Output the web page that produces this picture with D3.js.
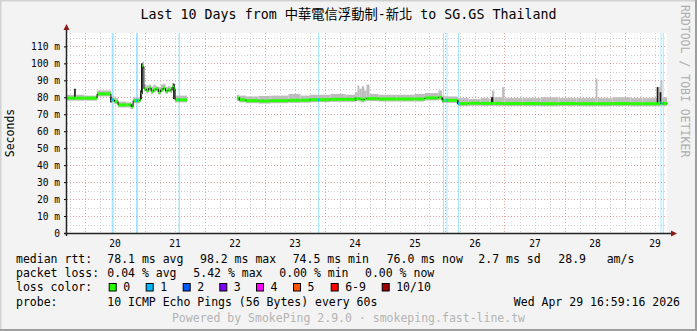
<!DOCTYPE html>
<html>
<head>
<meta charset="utf-8">
<script src="https://cdn.jsdelivr.net/npm/d3@7"></script>
<style>
  body { margin: 0; background: #f3f3f3; }
  svg { display: block; }
  text { font-family: "DejaVu Sans Mono", "Noto Sans CJK TC", monospace; }
</style>
</head>
<body>
<svg id="chart" width="697" height="331"></svg>
<script>
// ---- data (day of April 2026, decimal) ----
var medianDays = [19.71, 19.84, 19.86, 20.00, 20.21, 20.44, 20.50, 20.56, 20.70, 20.78, 20.81, 20.92, 20.94, 20.96, 20.99,
                  21.03, 21.07, 21.11, 21.15, 21.19, 21.23, 21.27, 21.31, 21.35, 21.39, 21.43, 21.46, 21.49, 21.51, 21.71,
                  22.54, 22.58, 22.69, 22.90, 23.10, 23.40, 23.60, 23.76, 23.89, 24.10, 24.35, 24.51, 24.55, 24.58, 24.62,
                  24.66, 24.70, 24.75, 24.90, 25.20, 25.50, 25.67, 25.90, 25.96, 26.00, 26.22, 26.40, 26.60, 26.75, 26.79,
                  26.83, 26.96, 27.00, 27.30, 27.60, 27.90, 28.20, 28.52, 28.55, 28.80, 29.10, 29.30, 29.55, 29.60, 29.63, 29.71];
var medianMs   = [79.5, 79.5, 79.5, 79.5, 82.0, 78.5, 77.5, 75.5, 75.5, 74.5, 78.0, 78.5, 82.0, 98.2, 85.0,
                  84.0, 85.5, 83.5, 84.5, 85.0, 83.0, 84.5, 85.5, 83.5, 84.5, 84.0, 86.0, 85.0, 78.5, null,
                  79.5, 78.5, 78.0, 77.8, 78.0, 78.2, 78.3, 78.6, 78.6, 78.8, 78.8, 79.2, 79.2, 79.0, 78.5,
                  79.0, 79.3, 79.2, 79.0, 79.0, 79.0, 79.6, 80.0, 78.2, 78.2, 76.3, 76.5, 76.4, 76.4, 76.4,
                  76.4, 76.3, 76.3, 76.3, 76.2, 76.3, 76.2, 76.2, 76.2, 76.3, 76.2, 76.2, 76.2, 76.6, 76.4, 76.0];
var smokeTopMs = [81.5, 85.0, 81.5, 81.0, 84.0, 80.5, 79.5, 77.5, 77.0, 76.5, 80.0, 80.5, 84.0, 101.0, 87.5,
                  87.0, 87.5, 86.5, 87.5, 86.5, 86.0, 87.5, 88.0, 86.0, 86.5, 86.0, 88.5, 87.5, 81.0, null,
                  81.5, 81.0, 80.5, 80.8, 81.0, 82.0, 81.0, 81.5, 81.5, 82.0, 81.5, 83.0, 87.0, 85.0, 86.5,
                  84.0, 87.5, 82.0, 81.5, 81.5, 82.0, 82.5, 84.0, 81.0, 80.5, 79.5, 79.0, 79.5, 79.0, 84.0,
                  80.0, 86.0, 79.5, 79.5, 80.0, 79.5, 79.5, 91.0, 79.5, 80.0, 79.5, 79.5, 86.0, 90.0, 80.0, 79.5];

// darkest smoke (near-black streaks)
var spikeDays = [19.84, 20.44, 20.78, 20.94, 20.955, 21.49, 22.58, 24.52, 25.97, 26.22, 26.79, 26.80, 29.55, 29.60];
var spikeLoMs = [79.5, 77.0, 74.5, 79.0, 82.0, 79.0, 78.0, 78.0, 77.5, 76.0, 76.0, 76.0, 76.0, 76.0];
var spikeHiMs = [85.0, 80.0, 76.0, 84.0, 100.0, 88.0, 80.0, 80.0, 79.5, 78.5, 80.0, 80.0, 86.0, 83.0];

// packet loss events
var lossDays  = [20.453, 20.858, 21.567, 23.892, 25.975, 26.033, 26.225, 29.600, 29.638];
var lossHours = [0.8, 0.8, 0.6, 0.4, 0.4, 0.4, 0.4, 0.4, 0.4];
var lossLevel = [1, 1, 1, 1, 1, 1, 1, 1, 1];

var yTicks = [0, 10, 20, 30, 40, 50, 60, 70, 80, 90, 100, 110];
var dayLabels = [20, 21, 22, 23, 24, 25, 26, 27, 28, 29];
var lossColors = ["#26ff00", "#00b8ff", "#0059ff", "#7e00ff", "#ff00ff", "#ff5500", "#ff0000", "#a00000"];
var lossLabels = ["0", "1", "2", "3", "4", "5", "6-9", "10/10"];

var rttStats  = ["78.1 ms avg", "98.2 ms max", "74.5 ms min", "76.0 ms now", "2.7 ms sd", "28.9", "am/s"];
var lossStats = ["0.04 % avg", "5.42 % max", "0.00 % min", "0.00 % now"];

// ---- setup ----
var W = 697, H = 331;
var svg = d3.select("#chart");
var plot = {left: 67, right: 667, top: 33, bottom: 233};

function day(d) { return new Date(Date.UTC(2026, 3, 1) + (d - 1) * 864e5); }

var x = d3.scaleUtc()
    .domain([day(19 + 17 / 24), day(29 + 17 / 24)])
    .range([plot.left, plot.right]);
var y = d3.scaleLinear()
    .domain([0, 117.9])
    .range([plot.bottom, plot.top]);

// frame
svg.append("rect").attr("width", W).attr("height", H).attr("fill", "#f3f3f3");
svg.append("path").attr("d", "M0,331 V0 H697").attr("stroke", "#d2d2d2").attr("stroke-width", 3).attr("fill", "none");
svg.append("path").attr("d", "M0,330 H696 V0").attr("stroke", "#9e9e9e").attr("stroke-width", 2).attr("fill", "none");

// canvas
svg.append("rect")
    .attr("x", plot.left).attr("y", plot.top)
    .attr("width", plot.right - plot.left).attr("height", plot.bottom - plot.top)
    .attr("fill", "#ffffff");

// grid
var grid = svg.append("g").attr("shape-rendering", "crispEdges");
var hours6 = d3.utcHour.every(6).range(x.domain()[0], x.domain()[1]);
hours6.forEach(function(t) {
    var major = t.getUTCHours() === 0;
    grid.append("line")
        .attr("x1", Math.round(x(t)) + 0.5).attr("x2", Math.round(x(t)) + 0.5)
        .attr("y1", plot.top).attr("y2", plot.bottom)
        .attr("stroke", major ? "#e2a3a3" : "#cfcfcf")
        .attr("stroke-dasharray", "1,2");
});
d3.range(5, 117, 5).forEach(function(v) {
    var major = v % 10 === 0;
    grid.append("line")
        .attr("x1", plot.left).attr("x2", plot.right)
        .attr("y1", Math.round(y(v)) + 0.5).attr("y2", Math.round(y(v)) + 0.5)
        .attr("stroke", major ? "#e2a3a3" : "#cfcfcf")
        .attr("stroke-dasharray", "1,2");
});

// loss bars (full height)
svg.append("g").selectAll("rect")
    .data(lossDays)
    .enter().append("rect")
    .attr("x", function(d) { return x(day(d)); })
    .attr("width", function(d, i) { return Math.max(1, x(day(d + lossHours[i] / 24)) - x(day(d))); })
    .attr("y", plot.top)
    .attr("height", plot.bottom - plot.top)
    .attr("fill", function(d, i) { return lossColors[lossLevel[i]]; })
    .attr("opacity", 0.35);

// smoke
var steps = [];
for (var i = 0; i < medianDays.length - 1; i++) {
    if (medianMs[i] == null) continue;
    steps.push({t0: medianDays[i], t1: medianDays[i + 1], m: medianMs[i], top: smokeTopMs[i],
                next: medianMs[i + 1]});
}
svg.append("g").selectAll("rect")
    .data(steps)
    .enter().append("rect")
    .attr("x", function(d) { return x(day(d.t0)); })
    .attr("width", function(d) { return x(day(d.t1)) - x(day(d.t0)); })
    .attr("y", function(d) { return y(d.top); })
    .attr("height", function(d) { return y(d.m - 1.5) - y(d.top); })
    .attr("fill", "#bdbdbd");

// dark streaks
svg.append("g").selectAll("line")
    .data(spikeDays)
    .enter().append("line")
    .attr("x1", function(d) { return x(day(d)); })
    .attr("x2", function(d) { return x(day(d)); })
    .attr("y1", function(d, i) { return y(spikeLoMs[i]); })
    .attr("y2", function(d, i) { return y(spikeHiMs[i]); })
    .attr("stroke", "#1a1a1a")
    .attr("stroke-width", 1.6);

// median: horizontal steps coloured by loss, black verticals
var med = svg.append("g");
med.selectAll("line.h")
    .data(steps)
    .enter().append("line")
    .attr("class", "h")
    .attr("x1", function(d) { return x(day(d.t0)); })
    .attr("x2", function(d) { return x(day(d.t1)); })
    .attr("y1", function(d) { return y(d.m); })
    .attr("y2", function(d) { return y(d.m); })
    .attr("stroke", lossColors[0])
    .attr("stroke-width", 3);
med.selectAll("line.v")
    .data(steps.filter(function(d) { return d.next != null; }))
    .enter().append("line")
    .attr("class", "v")
    .attr("x1", function(d) { return x(day(d.t1)); })
    .attr("x2", function(d) { return x(day(d.t1)); })
    .attr("y1", function(d) { return y(d.m); })
    .attr("y2", function(d) { return y(d.next); })
    .attr("stroke", "#111")
    .attr("stroke-width", 1);

// median coloured by loss where loss occurred
var bis = d3.bisector(function(d) { return d.t0; }).right;
lossDays.forEach(function(d, i) {
    var s = steps[bis(steps, d) - 1];
    if (!s || d > s.t1) return;
    med.append("line")
        .attr("x1", x(day(d))).attr("x2", x(day(d + Math.max(lossHours[i], 0.5) / 24)))
        .attr("y1", y(s.m)).attr("y2", y(s.m))
        .attr("stroke", lossColors[lossLevel[i]])
        .attr("stroke-width", 3);
});

// axes
var yAxis = svg.append("g")
    .attr("transform", "translate(" + plot.left + ",0)")
    .call(d3.axisLeft(y).tickValues(yTicks).tickSize(3).tickPadding(4)
        .tickFormat(function(v) { return v === 0 ? "0" : v + " m"; }));
yAxis.select(".domain").remove();
yAxis.selectAll("text").attr("font-size", "9.6px").attr("fill", "#000")
    .style("font-family", '"DejaVu Sans Mono", monospace');

var xAxis = svg.append("g")
    .attr("transform", "translate(0," + plot.bottom + ")")
    .call(d3.axisBottom(x)
        .tickValues(dayLabels.map(function(d) { return day(d + 0.5); }))
        .tickSize(0).tickPadding(7)
        .tickFormat(d3.utcFormat("%d")));
xAxis.select(".domain").remove();
xAxis.selectAll("text").attr("font-size", "9.6px").attr("fill", "#000")
    .style("font-family", '"DejaVu Sans Mono", monospace');

svg.append("line").attr("x1", plot.left - 3).attr("x2", plot.right + 5)
    .attr("y1", plot.bottom + 0.5).attr("y2", plot.bottom + 0.5)
    .attr("stroke", "#222").attr("stroke-width", 1.5);
svg.append("line").attr("x1", plot.left - 0.5).attr("x2", plot.left - 0.5)
    .attr("y1", plot.bottom + 3).attr("y2", plot.top - 4)
    .attr("stroke", "#222").attr("stroke-width", 1.5);
svg.append("path").attr("d", "M" + (plot.left - 3.5) + "," + (plot.top - 3) + " L" + (plot.left + 2.5) + "," + (plot.top - 3) +
    " L" + (plot.left - 0.5) + "," + (plot.top - 9) + "Z").attr("fill", "#8b1a1a");
svg.append("path").attr("d", "M" + (plot.right + 4) + "," + (plot.bottom - 2.5) + " L" + (plot.right + 4) + "," + (plot.bottom + 3.5) +
    " L" + (plot.right + 10) + "," + (plot.bottom + 0.5) + "Z").attr("fill", "#8b1a1a");

// title, unit, watermark
svg.append("text").attr("x", 348.5).attr("y", 19).attr("text-anchor", "middle")
    .attr("font-size", "13.3px").attr("fill", "#000")
    .text("Last 10 Days from 中華電信浮動制-新北 to SG.GS Thailand");
svg.append("text").attr("transform", "translate(14," + (plot.top + plot.bottom) / 2 + ") rotate(-90)")
    .attr("text-anchor", "middle").attr("font-size", "11.5px").attr("fill", "#000")
    .text("Seconds");
svg.append("text").attr("transform", "translate(681,5) rotate(90)")
    .attr("font-size", "11.5px").attr("fill", "#adadad")
    .text("RRDTOOL / TOBI OETIKER");

// legend
var lg = svg.append("g").attr("font-size", "11.5px").attr("fill", "#000");
var rows = [263, 277, 291, 305.5];
lg.append("text").attr("x", 16).attr("y", rows[0]).text("median rtt:");
[107.3, 200, 292.7, 386.7, 478.3, 558.3, 606.7].forEach(function(px, i) {
    lg.append("text").attr("x", px).attr("y", rows[0]).text(rttStats[i]);
});
lg.append("text").attr("x", 16).attr("y", rows[1]).text("packet loss:");
[107.3, 193.3, 279.3, 365].forEach(function(px, i) {
    lg.append("text").attr("x", px).attr("y", rows[1]).text(lossStats[i]);
});
lg.append("text").attr("x", 16).attr("y", rows[2]).text("loss color:");
[108.7, 145.7, 182.7, 219.3, 256, 293, 330.7, 381.7].forEach(function(px, i) {
    lg.append("rect").attr("x", px + 0.5).attr("y", 283.5).attr("width", 7).attr("height", 7.5)
        .attr("fill", lossColors[i]).attr("stroke", "#000").attr("stroke-width", 1);
    lg.append("text").attr("x", px + 14.5).attr("y", rows[2]).text(lossLabels[i]);
});
lg.append("text").attr("x", 16).attr("y", rows[3]).text("probe:");
lg.append("text").attr("x", 107.3).attr("y", rows[3]).text("10 ICMP Echo Pings (56 Bytes) every 60s");
lg.append("text").attr("x", 680).attr("y", rows[3]).attr("text-anchor", "end").text("Wed Apr 29 16:59:16 2026");

svg.append("text").attr("x", 348.5).attr("y", 322).attr("text-anchor", "middle")
    .attr("font-size", "11.5px").attr("fill", "#b4b4b4")
    .text("Powered by SmokePing 2.9.0 · smokeping.fast-line.tw");
</script>
</body>
</html>
